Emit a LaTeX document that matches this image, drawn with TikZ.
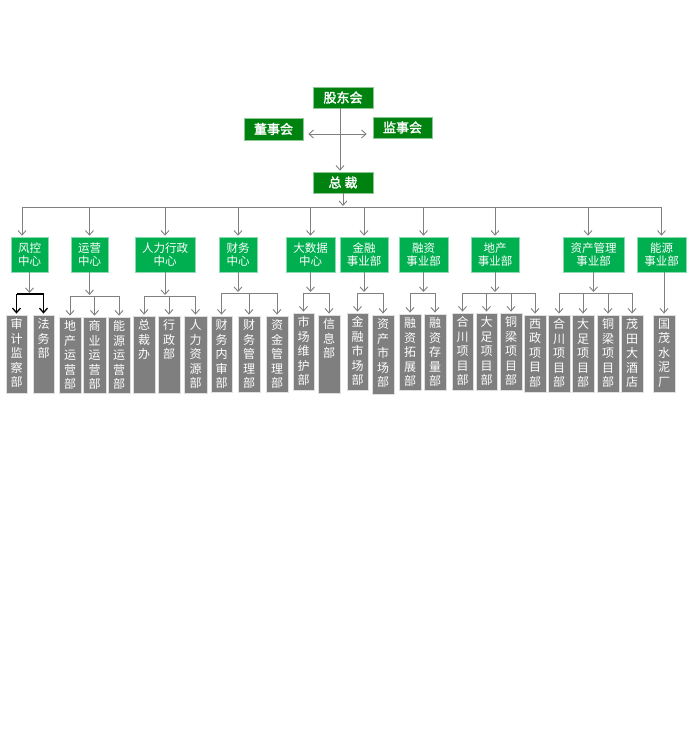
\documentclass[tikz,border=0pt]{standalone}
\usepackage{fontspec}
\newfontfamily\cjk{Noto Sans CJK SC}
\newfontfamily\cjkb{Noto Sans CJK SC}[FakeBold=2]
\usetikzlibrary{arrows.meta}
\definecolor{dkgreen}{RGB}{0,130,16}
\definecolor{ltgreen}{RGB}{0,176,80}
\definecolor{lfgray}{RGB}{127,127,127}
\definecolor{lngray}{RGB}{128,128,128}
\newcommand\leafnode[6]{%
  \pgfmathsetmacro\lcx{(#2+#3)/2}\pgfmathsetmacro\lcy{(#4+#5)/2}%
  \pgfmathsetmacro\lw{#3-#2}\pgfmathsetmacro\lh{#5-#4}%
  \node[leafbox, minimum width=\lw pt, minimum height=\lh pt] (#1) at (\lcx,\lcy) {};
  \node[leaftext] (#1t) at ([yshift=-4pt]#1.north) {#6};}
\begin{document}
\begin{tikzpicture}[x=1pt,y=-1pt,
  topbox/.style={rectangle, fill=dkgreen, draw=dkgreen!45!white, line width=0.6pt, text=white, font=\cjkb\fontsize{13}{15}\selectfont, inner sep=0pt},
  midbox/.style={rectangle, fill=ltgreen, draw=ltgreen!45!white, line width=0.6pt, text=white, align=center, font=\cjk\fontsize{11.5}{13}\selectfont, inner sep=0pt},
  leafbox/.style={rectangle, fill=lfgray, draw=gray!25!white, line width=0.8pt, inner sep=0pt},
  leaftext/.style={anchor=north, text=white, align=center, inner sep=0pt, font=\cjk\fontsize{12}{14.5}\selectfont},
  conn/.style={draw=lngray, line width=0.9pt},
  arr/.style={conn, shorten >=1pt, -{Straight Barb[length=4.5pt,width=8pt]}},
  dblarr/.style={conn, {Straight Barb[length=4.5pt,width=8pt]}-{Straight Barb[length=4.5pt,width=8pt]}},
  blk/.style={draw=black, line width=1.3pt},
  blkarr/.style={blk, shorten >=1pt, -{Straight Barb[length=4.5pt,width=8pt]}}]
\useasboundingbox[fill=white] (0,0) rectangle (690,730);

% top level
\node[topbox, minimum width=60pt, minimum height=21pt] (gd) at (343,97.5) {股东会};
\node[topbox, minimum width=59pt, minimum height=22pt] (ds) at (273.5,129) {董事会};
\node[topbox, minimum width=59pt, minimum height=21pt] (js) at (402.5,127.5) {监事会};
\node[topbox, minimum width=60pt, minimum height=21pt] (zc) at (343,182.5) {总~裁};

% middle level
\node[midbox, minimum width=37pt, minimum height=35pt] (fk) at (29.5,254.5) {风控\\中心};
\node[midbox, minimum width=37pt, minimum height=35pt] (yy) at (89.5,254.5) {运营\\中心};
\node[midbox, minimum width=60pt, minimum height=35pt] (rl) at (165,254.5) {人力行政\\中心};
\node[midbox, minimum width=38pt, minimum height=35pt] (cw) at (238,254.5) {财务\\中心};
\node[midbox, minimum width=49pt, minimum height=35pt] (dsj) at (310.5,254.5) {大数据\\中心};
\node[midbox, minimum width=48pt, minimum height=35pt] (jr) at (364,254.5) {金融\\事业部};
\node[midbox, minimum width=49pt, minimum height=35pt] (rz) at (423.5,254.5) {融资\\事业部};
\node[midbox, minimum width=48pt, minimum height=35pt] (dc) at (495,254.5) {地产\\事业部};
\node[midbox, minimum width=61pt, minimum height=35pt] (zcgl) at (593.5,254.5) {资产管理\\事业部};
\node[midbox, minimum width=49pt, minimum height=35pt] (ny) at (661.5,254.5) {能源\\事业部};

% leaves
\leafnode{a1}{6}{27}{315}{393}{审\\计\\监\\察\\部}
\leafnode{a2}{33}{54}{315}{393}{法\\务\\部}
\leafnode{b1}{59}{81}{317}{393}{地\\产\\运\\营\\部}
\leafnode{b2}{83}{106}{317}{393}{商\\业\\运\\营\\部}
\leafnode{b3}{108}{130}{317}{393}{能\\源\\运\\营\\部}
\leafnode{c1}{133}{155}{316}{393}{总\\裁\\办}
\leafnode{c2}{158}{180}{316}{393}{行\\政\\部}
\leafnode{c3}{184}{207}{316}{393}{人\\力\\资\\源\\部}
\leafnode{d1}{211}{232}{316}{392}{财\\务\\内\\审\\部}
\leafnode{d2}{238}{260}{316}{392}{财\\务\\管\\理\\部}
\leafnode{d3}{266}{288}{316}{392}{资\\金\\管\\理\\部}
\leafnode{e1}{293}{314}{313}{390}{市\\场\\维\\护\\部}
\leafnode{e2}{318}{340}{315}{393}{信\\息\\部}
\leafnode{f1}{347}{368}{313}{390}{金\\融\\市\\场\\部}
\leafnode{f2}{372}{394}{315}{394}{资\\产\\市\\场\\部}
\leafnode{g1}{399}{421}{314}{390}{融\\资\\拓\\展\\部}
\leafnode{g2}{424}{446}{314}{390}{融\\资\\存\\量\\部}
\leafnode{h1}{452}{473}{313}{390}{合\\川\\项\\目\\部}
\leafnode{h2}{476}{497}{313}{390}{大\\足\\项\\目\\部}
\leafnode{h3}{500}{522}{313}{390}{铜\\梁\\项\\目\\部}
\leafnode{h4}{524}{546}{315}{392}{西\\政\\项\\目\\部}
\leafnode{i1}{548}{570}{315}{392}{合\\川\\项\\目\\部}
\leafnode{i2}{572}{594}{315}{392}{大\\足\\项\\目\\部}
\leafnode{i3}{597}{619}{315}{392}{铜\\梁\\项\\目\\部}
\leafnode{i4}{621}{643}{315}{392}{茂\\田\\大\\酒\\店}
\leafnode{j1}{653}{675}{315}{392}{国\\茂\\水\\泥\\厂}

% top connectors
\coordinate (hy) at (340,134);
\draw[dblarr, shorten <=5pt, shorten >=6pt] (hy -| ds.east) -- (hy -| js.west);
\draw[arr] ([xshift=-3pt]gd.south) -- ([xshift=-3pt]zc.north);

% main bus
\coordinate (bus) at (343,207);
\coordinate (fkin) at ([xshift=-7.5pt]fk.north);
\coordinate (zgin) at ([xshift=-5.5pt]zcgl.north);
\draw[arr] (zc.south) -- (zc.south |- bus);
\draw[conn] (fkin |- bus) -- (ny.north |- bus);
\draw[arr] (fkin |- bus) -- (fkin);
\draw[arr] (zgin |- bus) -- (zgin);
\foreach \q in {yy,rl,cw,dsj,jr,rz,dc,ny} \draw[arr] (\q.north |- bus) -- (\q.north);

% sub buses
\coordinate (sb1) at (0,294);
\coordinate (sb2) at (0,296);
\coordinate (sb3) at (0,293);

% fengkong (black)
\draw[arr] (fk.south) -- (fk.south |- sb1);
\draw[blk, line join=round] (a1.north |- sb1) -- (a2.north |- sb1);
\foreach \q in {a1,a2} \draw[blkarr] (\q.north |- sb1) -- (\q.north);

% yunying
\draw[arr] (yy.south) -- (yy.south |- sb2);
\draw[conn] (b1.north |- sb2) -- (b3.north |- sb2);
\foreach \q in {b1,b2,b3} \draw[arr] (\q.north |- sb2) -- (\q.north);

% renli
\draw[arr] (rl.south) -- (rl.south |- sb2);
\draw[conn] (c1.north |- sb2) -- (c3.north |- sb2);
\foreach \q in {c1,c2,c3} \draw[arr] (\q.north |- sb2) -- (\q.north);

% caiwu
\draw[arr] (cw.south) -- (cw.south |- sb3);
\draw[conn] (d1.north |- sb3) -- (d3.north |- sb3);
\foreach \q in {d1,d2,d3} \draw[arr] (\q.north |- sb3) -- (\q.north);

% dashuju
\draw[arr] (dsj.south) -- (dsj.south |- sb3);
\draw[conn] (e1.north |- sb3) -- (e2.north |- sb3);
\foreach \q in {e1,e2} \draw[arr] (\q.north |- sb3) -- (\q.north);

% jinrong
\draw[arr] (jr.south) -- (jr.south |- sb3);
\draw[conn] (f1.north |- sb3) -- (f2.north |- sb3);
\foreach \q in {f1,f2} \draw[arr] (\q.north |- sb3) -- (\q.north);

% rongzi
\draw[arr] (rz.south) -- (rz.south |- sb3);
\draw[conn] (g1.north |- sb3) -- (g2.north |- sb3);
\foreach \q in {g1,g2} \draw[arr] (\q.north |- sb3) -- (\q.north);

% dichan
\draw[arr] (dc.south) -- (dc.south |- sb3);
\draw[conn] (h1.north |- sb3) -- (h4.north |- sb3);
\foreach \q in {h1,h2,h3,h4} \draw[arr] (\q.north |- sb3) -- (\q.north);

% zichan guanli
\draw[arr] (zcgl.south) -- (zcgl.south |- sb3);
\draw[conn] (i1.north |- sb3) -- (i4.north |- sb3);
\foreach \q in {i1,i2,i3,i4} \draw[arr] (\q.north |- sb3) -- (\q.north);

% nengyuan
\draw[arr] (j1.north |- ny.south) -- (j1.north);
\end{tikzpicture}
\end{document}
